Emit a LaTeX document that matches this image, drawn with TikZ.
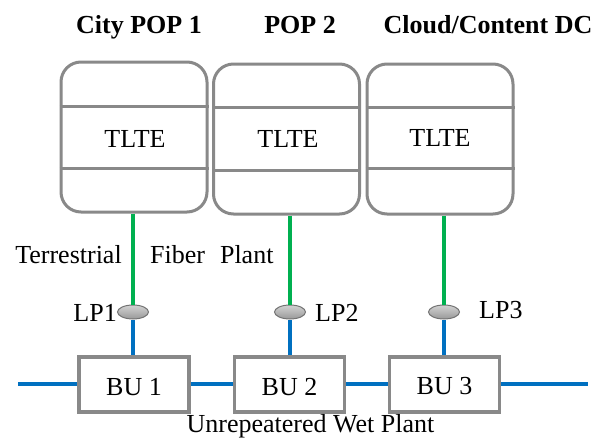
\documentclass[tikz,border=0pt]{standalone}
\usepackage{fontspec}
\setmainfont{Liberation Serif}
\usetikzlibrary{shapes.geometric}
\definecolor{fibergreen}{RGB}{0,176,80}
\definecolor{wetblue}{RGB}{0,112,192}
\definecolor{boxgray}{RGB}{137,137,137}
\tikzset{
  popbox/.style={draw=boxgray, line width=3pt, rounded corners=20pt, minimum width=146pt, minimum height=150pt, inner sep=0pt},
  divider/.style={draw=boxgray, line width=3pt},
  bubox/.style={draw=boxgray, line width=3.5pt, minimum width=110pt, minimum height=55pt, inner sep=0pt},
  lpnode/.style={ellipse, draw=gray!90!black, line width=1pt, top color=gray!35, bottom color=gray!80, minimum width=31pt, minimum height=14pt, inner sep=0pt},
  greenline/.style={draw=fibergreen, line width=4pt},
  blueline/.style={draw=wetblue, line width=4.5pt},
  lbl/.style={inner sep=0pt, font=\fontsize{26}{30}\selectfont},
  ttl/.style={inner sep=0pt, font=\fontsize{26}{30}\selectfont\bfseries, anchor=base},
}
\begin{document}
\begin{tikzpicture}[x=1pt, y=-1pt]
\useasboundingbox (0,0) rectangle (606,439);
% titles
\node[ttl] (t1) at (139,33) {City POP 1};
\node[ttl] (t2) at (300,33) {POP 2};
\node[ttl] (t3) at (488,33) {Cloud/Content DC};
% POP boxes
\node[popbox] (pop1) at (134,137) {};
\node[popbox] (pop2) at (286.5,139) {};
\node[popbox] (pop3) at (440,139) {};
\draw[divider] (pop1.west |- {(0,106)}) -- (pop1.east |- {(0,106)});
\draw[divider] (pop1.west |- {(0,168)}) -- (pop1.east |- {(0,168)});
\draw[divider] (pop2.west |- {(0,107)}) -- (pop2.east |- {(0,107)});
\draw[divider] (pop2.west |- {(0,170)}) -- (pop2.east |- {(0,170)});
\draw[divider] (pop3.west |- {(0,107)}) -- (pop3.east |- {(0,107)});
\draw[divider] (pop3.west |- {(0,168)}) -- (pop3.east |- {(0,168)});
\node[lbl, anchor=base] (tl1) at (135,147.5) {TLTE};
\node[lbl, anchor=base] (tl2) at (288,147) {TLTE};
\node[lbl, anchor=base] (tl3) at (440,146) {TLTE};
% LP nodes
\node[lpnode] (lp1) at (133,312) {};
\node[lpnode] (lp2) at (290,312) {};
\node[lpnode] (lp3) at (444,312) {};
% BU boxes
\node[bubox] (bu1) at (134,384.5) {};
\node[bubox] (bu2) at (289.5,384.5) {};
\node[bubox] (bu3) at (444.5,384.5) {};
\node[lbl, anchor=base] (bt1) at (134,395.5) {BU 1};
\node[lbl, anchor=base] (bt2) at (289.5,395) {BU 2};
\node[lbl, anchor=base] (bt3) at (444.5,394.5) {BU 3};
% green fibers
\draw[greenline] (lp1.north |- pop1.south) -- (lp1.north);
\draw[greenline] (lp2.north |- pop2.south) -- (lp2.north);
\draw[greenline] (lp3.north |- pop3.south) -- (lp3.north);
% blue branches
\draw[blueline] (lp1.south) -- (lp1.south |- bu1.north);
\draw[blueline] (lp2.south) -- (lp2.south |- bu2.north);
\draw[blueline] (lp3.south) -- (lp3.south |- bu3.north);
% trunk
\coordinate (wend) at (18,384);
\coordinate (eend) at (588,384);
\draw[blueline] (wend) -- (wend -| bu1.west);
\draw[blueline] (bu1.east |- wend) -- (bu2.west |- wend);
\draw[blueline] (bu2.east |- wend) -- (bu3.west |- wend);
\draw[blueline] (bu3.east |- wend) -- (eend);
% labels
\node[lbl, anchor=base east] (l1) at (117,321) {LP1};
\node[lbl, anchor=base west] (l2) at (315,321) {LP2};
\node[lbl, anchor=base west] (l3) at (479,318) {LP3};
\node[lbl, anchor=base] (terr) at (68.5,263) {Terrestrial};
\node[lbl, anchor=base west] (fib) at (150,263) {Fiber\hspace{15pt}Plant};
\node[lbl, anchor=base] (wet) at (310.5,432) {Unrepeatered Wet Plant};
\end{tikzpicture}
\end{document}
